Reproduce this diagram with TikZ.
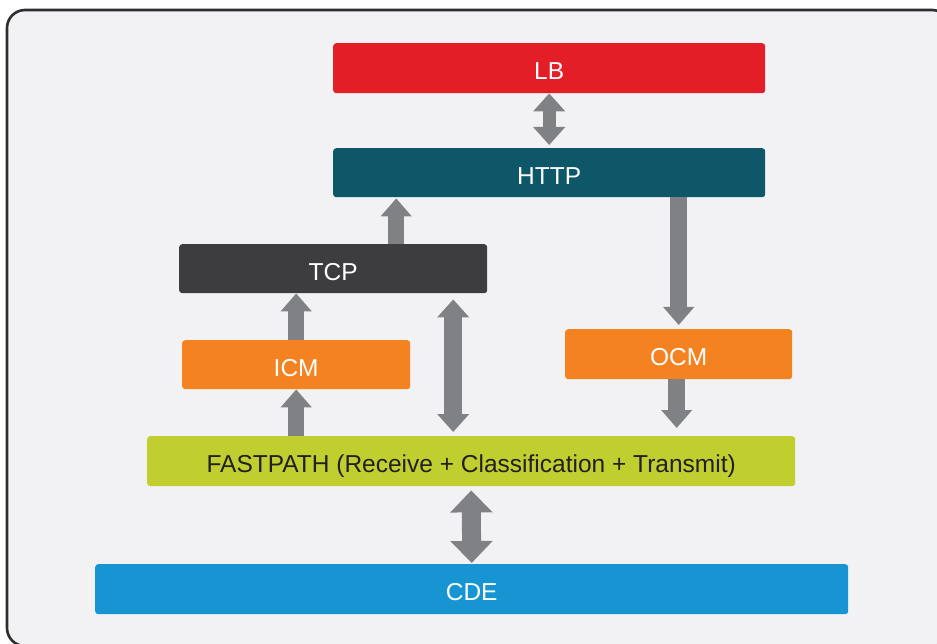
\documentclass[tikz,border=0pt]{standalone}
\usepackage{fontspec}
\setmainfont{Liberation Sans}
\usetikzlibrary{arrows.meta}

\definecolor{panel}{HTML}{F2F2F4}
\definecolor{framedark}{HTML}{2E2E30}
\definecolor{lbred}{HTML}{E41E26}
\definecolor{httpteal}{HTML}{0D5769}
\definecolor{tcpgray}{HTML}{3D3D40}
\definecolor{cmorange}{HTML}{F58220}
\definecolor{fastlime}{HTML}{C0CF2F}
\definecolor{cdeblue}{HTML}{1795D3}
\definecolor{arrowgray}{HTML}{808185}
\definecolor{darktext}{HTML}{231F20}

\begin{document}
\begin{tikzpicture}[x=1pt,y=-1pt,
  layer/.style={draw=none, rounded corners=3pt, anchor=north west, inner sep=0pt,
    minimum height=50pt, text=white, text height=23.5pt, text depth=0pt,
    font=\fontsize{24.5}{29}\selectfont},
  flow/.style={draw=arrowgray, line width=16pt,
    -{Triangle[length=18pt,width=30pt]}},
  biflow/.style={draw=arrowgray, line width=16pt,
    {Triangle[length=18pt,width=31pt]}-{Triangle[length=18pt,width=31pt]}}
]
\useasboundingbox (0,0) rectangle (937,644);
\clip (0,0) rectangle (937,644);
\fill[white] (0,0) rectangle (937,644);

% outer panel
\draw[line width=2.6pt, draw=framedark, fill=panel, rounded corners=18pt]
  (7,10) rectangle (950,646);

% layers
\node[layer, fill=lbred,    minimum width=432pt] (lb)   at (333,43)  {LB};
\node[layer, fill=httpteal, minimum width=432pt, minimum height=49pt] (http) at (333,148) {HTTP};
\node[layer, fill=tcpgray,  minimum width=308pt, minimum height=49pt] (tcp)  at (179,244) {TCP};
\node[layer, fill=cmorange, minimum width=228pt, minimum height=49pt] (icm)  at (182,340) {ICM};
\node[layer, fill=cmorange, minimum width=227pt] (ocm)  at (565,329) {OCM};
\node[layer, fill=fastlime, minimum width=648pt, text=darktext] (fast) at (147,436)
  {FASTPATH (Receive + Classification + Transmit)};
\node[layer, fill=cdeblue,  minimum width=753pt] (cde)  at (95,564)  {CDE};

% connectors
\draw[biflow, line width=13pt] (lb.south) -- ([yshift=3pt]http.north);
\draw[flow] ([xshift=63pt]tcp.north) -- ([xshift=63pt,yshift=-1pt]tcp.north |- http.south);
\draw[flow] (icm.north) -- (icm.north |- tcp.south);
\draw[flow] (icm.south |- fast.north) -- (icm.south);
\draw[biflow, line width=18pt]
  ([xshift=120pt,yshift=-6pt]tcp.south) -- ([xshift=120pt,yshift=4pt]tcp.south |- fast.north);
\draw[flow, line width=17pt] (http.south -| ocm.north) -- ([yshift=4pt]ocm.north);
\draw[flow, line width=17pt] ([xshift=-2pt]ocm.south) -- ([xshift=-2pt,yshift=8pt]ocm.south |- fast.north);
\draw[draw=arrowgray, line width=19pt,
  {Triangle[length=22pt,width=41pt]}-{Triangle[length=22pt,width=41pt]}]
  ([yshift=-4pt]fast.south) -- ([yshift=1pt]cde.north);
\end{tikzpicture}
\end{document}
